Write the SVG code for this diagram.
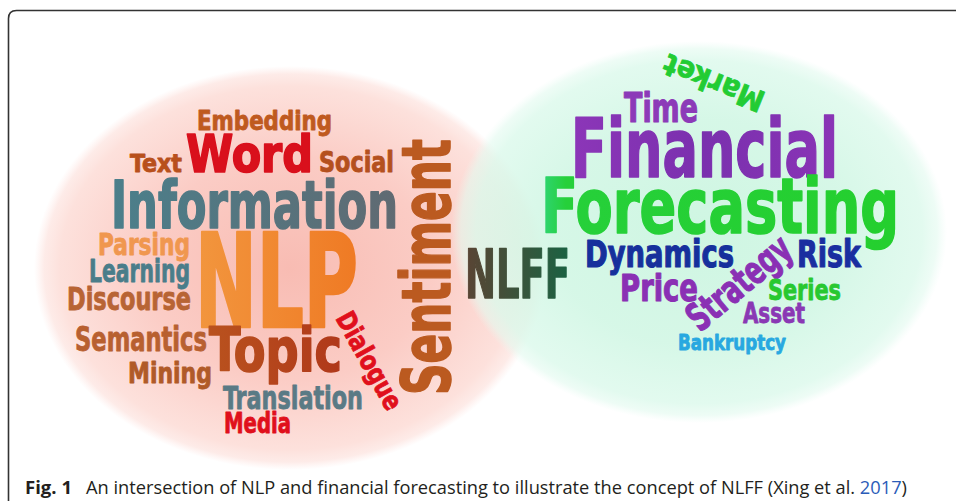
<svg xmlns="http://www.w3.org/2000/svg" width="956" height="501" viewBox="0 0 956 501">
<style>
.w{font-family:"DejaVu Sans Condensed","DejaVu Sans",sans-serif;font-weight:bold;font-stretch:condensed;stroke-linejoin:round}
.s1{stroke-width:0.8px}
.s2{stroke-width:1.1px}
.s3{stroke-width:1.6px}
.s4{stroke-width:2.6px}
.cap{font-family:"Open Sans","Liberation Sans",sans-serif;font-size:18px;fill:#231f20}
</style>
<defs>
<radialGradient id="pink" cx="0.5" cy="0.5" r="0.5">
<stop offset="0" stop-color="#f8bcb3"/>
<stop offset="0.55" stop-color="#fbccc5"/>
<stop offset="0.9" stop-color="#fde1dc"/>
<stop offset="0.96" stop-color="#fde6e2" stop-opacity="0.8"/>
<stop offset="1" stop-color="#fee9e6" stop-opacity="0"/>
</radialGradient>
<radialGradient id="green" cx="0.5" cy="0.5" r="0.5">
<stop offset="0" stop-color="#c6f4dd" stop-opacity="0.85"/>
<stop offset="0.6" stop-color="#cff6e3" stop-opacity="0.85"/>
<stop offset="0.9" stop-color="#dbf9eb" stop-opacity="0.8"/>
<stop offset="0.96" stop-color="#e2faef" stop-opacity="0.6"/>
<stop offset="1" stop-color="#e8fbf3" stop-opacity="0"/>
</radialGradient>
<linearGradient id="gInfo" x1="0" y1="0" x2="1" y2="0">
<stop offset="0" stop-color="#4b7f8b"/><stop offset="1" stop-color="#606a72"/>
</linearGradient>
<linearGradient id="gNLP" x1="0" y1="0" x2="1" y2="0">
<stop offset="0" stop-color="#f2963e"/><stop offset="1" stop-color="#ef7a24"/>
</linearGradient>
<linearGradient id="gTopic" x1="0" y1="0" x2="1" y2="0">
<stop offset="0" stop-color="#b9521e"/><stop offset="1" stop-color="#b0381a"/>
</linearGradient>
<linearGradient id="gNLFF" x1="0" y1="0" x2="1" y2="0">
<stop offset="0" stop-color="#5a4434"/><stop offset="1" stop-color="#1a6242"/>
</linearGradient>
<linearGradient id="gFore" x1="0" y1="0" x2="1" y2="0">
<stop offset="0" stop-color="#2fd576"/><stop offset="0.07" stop-color="#26d03a"/><stop offset="1" stop-color="#24cf2e"/>
</linearGradient>
<linearGradient id="gFin" x1="0" y1="0" x2="1" y2="0">
<stop offset="0" stop-color="#8c36b8"/><stop offset="0.5" stop-color="#7a30ae"/><stop offset="1" stop-color="#8a34b6"/>
</linearGradient>
</defs>
<rect width="956" height="501" fill="#ffffff"/>
<path d="M8.5 501 V18.5 Q8.5 10.5 16.5 10.5 H956" fill="none" stroke="#333333" stroke-width="1.6"/>
<g id="backgrounds">
<ellipse id="nlp-circle" cx="290" cy="268" rx="256" ry="202" fill="url(#pink)"/>
<ellipse id="ff-circle" cx="699" cy="232" rx="248" ry="191" fill="url(#green)"/>
</g>
<g id="connectors"/>
<g id="nlp-words" class="w">
<g id="w-embedding"><text class="s1" x="197" y="130" font-size="26" textLength="135" lengthAdjust="spacingAndGlyphs" fill="#bf5a1f" stroke="#bf5a1f">Embedding</text></g>
<g id="w-word"><text class="s3" x="186" y="172" font-size="51" textLength="127" lengthAdjust="spacingAndGlyphs" fill="#d9101c" stroke="#d9101c">Word</text></g>
<g id="w-text"><text class="s1" x="130" y="172" font-size="24.5" textLength="52" lengthAdjust="spacingAndGlyphs" fill="#b8501c" stroke="#b8501c">Text</text></g>
<g id="w-social"><text class="s1" x="319" y="172" font-size="27.5" textLength="75" lengthAdjust="spacingAndGlyphs" fill="#b4501e" stroke="#b4501e">Social</text></g>
<g id="w-information"><text class="s3" x="111" y="228" font-size="66" textLength="287" lengthAdjust="spacingAndGlyphs" fill="url(#gInfo)" stroke="url(#gInfo)">Information</text></g>
<g id="w-parsing"><text class="s1" x="98" y="255" font-size="30" textLength="92" lengthAdjust="spacingAndGlyphs" fill="#f0974f" stroke="#f0974f">Parsing</text></g>
<g id="w-nlp"><text class="s4" x="195" y="327" font-size="130" textLength="163" lengthAdjust="spacingAndGlyphs" fill="url(#gNLP)" stroke="url(#gNLP)">NLP</text></g>
<g id="w-learning"><text class="s1" x="89" y="282" font-size="31.5" textLength="101" lengthAdjust="spacingAndGlyphs" fill="#4a7d8a" stroke="#4a7d8a">Learning</text></g>
<g id="w-discourse"><text class="s1" x="67" y="310" font-size="31.5" textLength="124" lengthAdjust="spacingAndGlyphs" fill="#b86434" stroke="#b86434">Discourse</text></g>
<g id="w-semantics"><text class="s1" x="75" y="351" font-size="33" textLength="132" lengthAdjust="spacingAndGlyphs" fill="#b86030" stroke="#b86030">Semantics</text></g>
<g id="w-topic"><text class="s3" x="209" y="371" font-size="60" textLength="133" lengthAdjust="spacingAndGlyphs" fill="url(#gTopic)" stroke="url(#gTopic)">Topic</text></g>
<g id="w-mining"><text class="s1" x="128" y="383" font-size="29" textLength="84" lengthAdjust="spacingAndGlyphs" fill="#b05a28" stroke="#b05a28">Mining</text></g>
<g id="w-translation"><text class="s1" x="223" y="409" font-size="31.5" textLength="140" lengthAdjust="spacingAndGlyphs" fill="#5a7a85" stroke="#5a7a85">Translation</text></g>
<g id="w-media"><text class="s1" x="224" y="433" font-size="29" textLength="67" lengthAdjust="spacingAndGlyphs" fill="#e0101c" stroke="#e0101c">Media</text></g>
<g id="w-dialogue"><text class="s1" x="335" y="318" font-size="27" textLength="108" lengthAdjust="spacingAndGlyphs" fill="#e0101c" stroke="#e0101c" transform="rotate(61 335 318)">Dialogue</text></g>
<g id="w-sentiment"><text class="s3" x="450" y="395" font-size="68" textLength="256" lengthAdjust="spacingAndGlyphs" fill="#bb5a20" stroke="#bb5a20" transform="rotate(-90 450 395)">Sentiment</text></g>
</g>
<g id="w-nlff" class="w"><text class="s3" x="465" y="298" font-size="68" textLength="105" lengthAdjust="spacingAndGlyphs" fill="url(#gNLFF)" stroke="url(#gNLFF)">NLFF</text></g>
<g id="ff-words" class="w">
<g id="w-market"><text class="s1" x="767" y="93" font-size="30" textLength="106" lengthAdjust="spacingAndGlyphs" fill="#22cc33" stroke="#22cc33" transform="rotate(202 767 93)">Market</text></g>
<g id="w-time"><text class="s2" x="624" y="122" font-size="40" textLength="74" lengthAdjust="spacingAndGlyphs" fill="#8c3ab8" stroke="#8c3ab8">Time</text></g>
<g id="w-financial"><text class="s3" x="571" y="177" font-size="82" textLength="267" lengthAdjust="spacingAndGlyphs" fill="url(#gFin)" stroke="url(#gFin)">Financial</text></g>
<g id="w-forecasting"><text class="s3" x="541" y="233" font-size="77" textLength="358" lengthAdjust="spacingAndGlyphs" fill="url(#gFore)" stroke="url(#gFore)">Forecasting</text></g>
<g id="w-dynamics"><text class="s2" x="585" y="267" font-size="37" textLength="149" lengthAdjust="spacingAndGlyphs" fill="#16309c" stroke="#16309c">Dynamics</text></g>
<g id="w-risk"><text class="s2" x="797" y="267" font-size="37" textLength="64" lengthAdjust="spacingAndGlyphs" fill="#1a2ea0" stroke="#1a2ea0">Risk</text></g>
<g id="w-price"><text class="s2" x="620" y="301" font-size="38" textLength="78" lengthAdjust="spacingAndGlyphs" fill="#8a30b4" stroke="#8a30b4">Price</text></g>
<g id="w-strategy"><text class="s2" x="700" y="333" font-size="39" textLength="124" lengthAdjust="spacingAndGlyphs" fill="#8a30b4" stroke="#8a30b4" transform="rotate(-40 700 333)">Strategy</text></g>
<g id="w-series"><text class="s1" x="768" y="300" font-size="28" textLength="73" lengthAdjust="spacingAndGlyphs" fill="#28c830" stroke="#28c830">Series</text></g>
<g id="w-asset"><text class="s1" x="743" y="323" font-size="29" textLength="62" lengthAdjust="spacingAndGlyphs" fill="#8a38b4" stroke="#8a38b4">Asset</text></g>
<g id="w-bankruptcy"><text class="s1" x="678" y="350" font-size="21" textLength="108" lengthAdjust="spacingAndGlyphs" fill="#28a8e0" stroke="#28a8e0">Bankruptcy</text></g>
</g>
<g id="caption">
<text class="cap" x="25" y="494" font-weight="bold" textLength="47" lengthAdjust="spacingAndGlyphs">Fig. 1</text>
<text class="cap" x="86" y="494" textLength="821" lengthAdjust="spacingAndGlyphs">An intersection of NLP and financial forecasting to illustrate the concept of NLFF (Xing et al. <tspan fill="#2b5cb8">2017</tspan>)</text>
</g>
</svg>
